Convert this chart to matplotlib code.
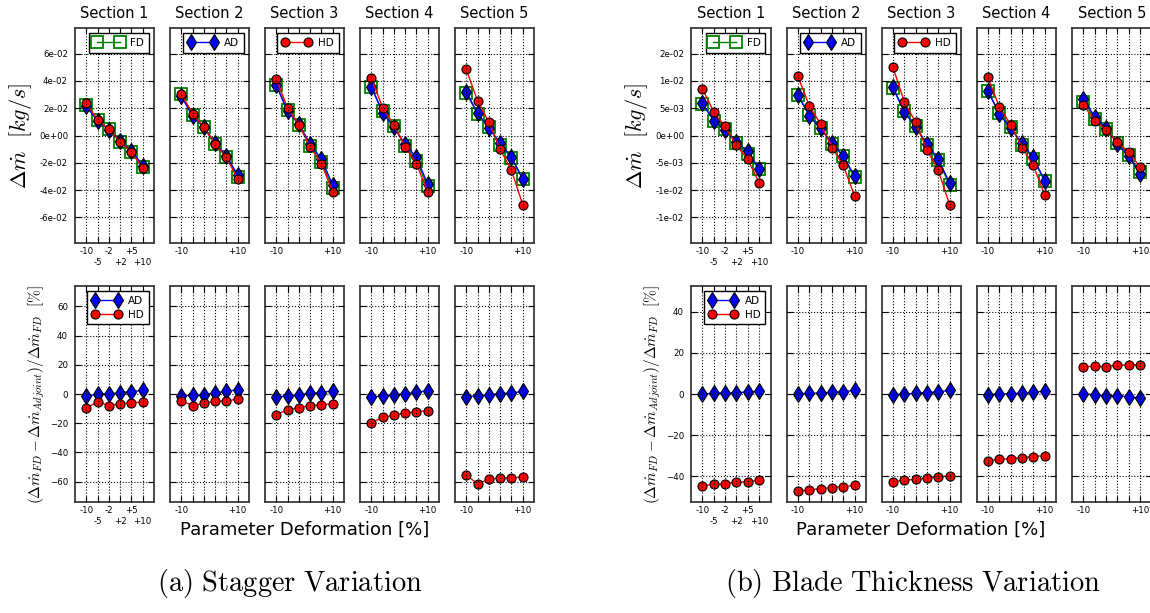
import matplotlib
matplotlib.use("Agg")
import matplotlib.pyplot as plt

plt.rcParams['font.family'] = ['DejaVu Sans']
plt.rcParams['mathtext.fontset'] = 'cm'

# ---------------------------------------------------------------- data
sections = ['Section 1', 'Section 2', 'Section 3', 'Section 4', 'Section 5']
deform_labels = ['-10', '-5', '-2', '+2', '+5', '+10']

# (a) stagger variation: mass-flow change [kg/s]
stagger_fd = [
    [0.0222, 0.0112, 0.0046, -0.0044, -0.0121, -0.0228],
    [0.0302, 0.0151, 0.0059, -0.0063, -0.0156, -0.0307],
    [0.0370, 0.0188, 0.0078, -0.0080, -0.0193, -0.0388],
    [0.0354, 0.0176, 0.0073, -0.0078, -0.0185, -0.0373],
    [0.0310, 0.0159, 0.0063, -0.0066, -0.0163, -0.0317],
]
stagger_ad = [
    [0.0215, 0.0108, 0.0041, -0.0041, -0.0112, -0.0220],
    [0.0288, 0.0141, 0.0061, -0.0057, -0.0148, -0.0290],
    [0.0368, 0.0176, 0.0085, -0.0063, -0.0173, -0.0363],
    [0.0359, 0.0168, 0.0059, -0.0063, -0.0161, -0.0356],
    [0.0320, 0.0163, 0.0056, -0.0056, -0.0159, -0.0320],
]
stagger_hd = [
    [0.0236, 0.0115, 0.0045, -0.0048, -0.0120, -0.0240],
    [0.0305, 0.0159, 0.0061, -0.0063, -0.0161, -0.0320],
    [0.0417, 0.0200, 0.0080, -0.0083, -0.0207, -0.0412],
    [0.0424, 0.0205, 0.0080, -0.0083, -0.0207, -0.0415],
    [0.0485, 0.0254, 0.0098, -0.0102, -0.0254, -0.0507],
]
# (a) relative error of adjoint predictions [%]
stagger_err_ad = [
    [-1.6, 0.0, 0.0, 0.9, 1.6, 2.5],
    [-1.1, -0.9, -0.5, 0.7, 1.8, 3.0],
    [-2.3, -1.1, -0.5, 0.5, 0.9, 2.3],
    [-2.3, -1.1, -0.5, 0.2, 1.1, 2.3],
    [-1.8, -1.1, -0.5, 0.2, 0.7, 1.8],
]
stagger_err_hd = [
    [-9.8, -5.2, -8.0, -6.6, -6.1, -5.5],
    [-4.6, -8.0, -6.4, -5.0, -4.6, -3.6],
    [-14.1, -10.9, -9.3, -8.0, -7.3, -6.6],
    [-20.0, -15.9, -14.6, -13.0, -12.3, -11.4],
    [-55.6, -61.5, -58.5, -57.4, -57.6, -56.7],
]

# (b) blade thickness variation: mass-flow change [kg/s]
thick_fd = [
    [0.00585, 0.00274, 0.00116, -0.00140, -0.00341, -0.00622],
    [0.00750, 0.00378, 0.00146, -0.00152, -0.00384, -0.00768],
    [0.00878, 0.00451, 0.00177, -0.00183, -0.00457, -0.00909],
    [0.00817, 0.00409, 0.00159, -0.00171, -0.00427, -0.00841],
    [0.00622, 0.00311, 0.00122, -0.00134, -0.00354, -0.00671],
]
thick_ad = [
    [0.00590, 0.00274, 0.00104, -0.00116, -0.00293, -0.00610],
    [0.00738, 0.00366, 0.00134, -0.00140, -0.00372, -0.00750],
    [0.00884, 0.00433, 0.00159, -0.00159, -0.00433, -0.00872],
    [0.00817, 0.00396, 0.00134, -0.00140, -0.00402, -0.00829],
    [0.00665, 0.00348, 0.00140, -0.00159, -0.00384, -0.00707],
]
thick_hd = [
    [0.00860, 0.00433, 0.00165, -0.00183, -0.00439, -0.00866],
    [0.01091, 0.00543, 0.00213, -0.00220, -0.00549, -0.01110],
    [0.01256, 0.00622, 0.00244, -0.00262, -0.00640, -0.01268],
    [0.01067, 0.00530, 0.00201, -0.00220, -0.00549, -0.01085],
    [0.00561, 0.00274, 0.00104, -0.00128, -0.00299, -0.00585],
]
# (b) relative error of adjoint predictions [%]
thick_err_ad = [
    [0.0, 0.3, 0.5, 0.7, 1.0, 1.3],
    [0.0, 0.3, 0.5, 0.8, 1.1, 1.8],
    [-0.3, 0.0, 0.3, 0.7, 1.0, 1.8],
    [-0.3, 0.0, 0.2, 0.3, 0.8, 1.5],
    [0.0, -0.3, -0.8, -0.8, -1.3, -2.0],
]
thick_err_hd = [
    [-44.6, -43.9, -43.6, -42.9, -42.6, -41.9],
    [-47.3, -46.5, -46.0, -45.5, -45.0, -44.4],
    [-42.6, -41.9, -41.5, -40.8, -40.3, -39.7],
    [-32.4, -31.7, -31.4, -30.9, -30.4, -29.9],
    [13.3, 13.5, 13.3, 14.0, 14.1, 14.3],
]

stagger_dm_ticks = [0.06, 0.04, 0.02, 0.0, -0.02, -0.04, -0.06]
stagger_dm_ticklabels = ['6e-02', '4e-02', '2e-02', '0e+00', '-2e-02', '-4e-02', '-6e-02']
thick_dm_ticks = [0.015, 0.010, 0.005, 0.0, -0.005, -0.010, -0.015]
thick_dm_ticklabels = ['2e-02', '1e-02', '5e-03', '0e+00', '-5e-03', '-1e-02', '-1e-02']
stagger_err_ticks = [60, 40, 20, 0, -20, -40, -60]
stagger_err_ticklabels = ['60', '40', '20', '0', '\u221220', '\u221240', '\u221260']
thick_err_ticks = [40, 20, 0, -20, -40]
thick_err_ticklabels = ['40', '20', '0', '\u221220', '\u221240']

# ---------------------------------------------------------------- styles
W, H = 1150, 613
fig = plt.figure(figsize=(W / 100, H / 100), dpi=100)

FD_STYLE = dict(color='green', lw=1.0, marker='s', ms=8.5, mfc='none',
                mec='green', mew=1.3, label='FD', zorder=2)
AD_STYLE = dict(color='blue', lw=1.0, marker='d', ms=8.5, mfc='blue',
                mec='black', mew=0.8, label='AD', zorder=2.1)
HD_STYLE = dict(color='red', lw=1.0, marker='o', ms=6.5, mfc='red',
                mec='black', mew=0.8, label='HD', zorder=2.2)

SPINE_COLOR = '#3a3a3a'
TICK_FS = 6.2
xpos = list(range(len(deform_labels)))

LEG_KW = dict(loc='upper right', numpoints=2, fontsize=7.5, handlelength=2.8,
              fancybox=False, framealpha=1.0, edgecolor='black',
              borderpad=0.45, handletextpad=0.7, labelspacing=0.35)

ROW_TOP = (28, 215)      # top edge, height in pixels
ROW_BOT = (286, 216)


def px_axes(left, top, width, height):
    return fig.add_axes([left / W, 1 - (top + height) / H, width / W, height / H])


def style_axes(ax, first_col):
    ax.set_axisbelow(False)
    for s in ax.spines.values():
        s.set_color(SPINE_COLOR)
        s.set_linewidth(1.3)
    ax.set_xlim(-1, 6)
    if first_col:
        # staggered two-row labelling of the deformation levels
        ax.set_xticks(xpos[0::2])
        ax.set_xticklabels(deform_labels[0::2])
        ax.set_xticks(xpos[1::2], minor=True)
        ax.set_xticklabels(deform_labels[1::2], minor=True)
        ax.tick_params(axis='x', which='minor', pad=10.8)
    else:
        ax.set_xticks(xpos)
        ax.set_xticklabels([lab if i in (0, len(deform_labels) - 1) else ''
                            for i, lab in enumerate(deform_labels)])
    ax.grid(True, which='both', color='black', linestyle=':', linewidth=0.8)
    ax.tick_params(which='both', direction='in', length=4, width=0.8,
                   color='black', top=True, right=True, labelsize=TICK_FS)
    ax.tick_params(axis='x', which='major', pad=3)
    ax.tick_params(axis='y', pad=5)


def draw_panel(lefts, width, fd, ad, hd, err_ad, err_hd, dm_ylim, dm_ticks,
               dm_ticklabels, err_ylim, err_ticks, err_ticklabels,
               ylab_x_top, ylab_x_bot):
    for k, sec in enumerate(sections):
        first = (k == 0)
        ax = px_axes(lefts[k], ROW_TOP[0], width, ROW_TOP[1])
        l_fd, = ax.plot(xpos, fd[k], **FD_STYLE)
        l_ad, = ax.plot(xpos, ad[k], **AD_STYLE)
        l_hd, = ax.plot(xpos, hd[k], **HD_STYLE)
        style_axes(ax, first)
        ax.set_ylim(*dm_ylim)
        ax.set_yticks(dm_ticks)
        ax.set_yticklabels(dm_ticklabels if first else [''] * len(dm_ticks))
        ax.set_title(sec, fontsize=10.5, pad=7)
        if k < 3:
            ax.legend(handles=[[l_fd, l_ad, l_hd][k]], **LEG_KW)
        if first:
            ax.set_ylabel(r'$\Delta\dot{m}\ \ [kg/s]$', fontsize=16)
            ax.yaxis.set_label_coords(ylab_x_top / W, 1 - 135.5 / H,
                                      transform=fig.transFigure)

        bx = px_axes(lefts[k], ROW_BOT[0], width, ROW_BOT[1])
        b_ad, = bx.plot(xpos, err_ad[k], **AD_STYLE)
        b_hd, = bx.plot(xpos, err_hd[k], **HD_STYLE)
        style_axes(bx, first)
        bx.set_ylim(*err_ylim)
        bx.set_yticks(err_ticks)
        bx.set_yticklabels(err_ticklabels if first else [''] * len(err_ticks))
        if first:
            bx.legend(handles=[b_ad, b_hd], **LEG_KW)
            bx.set_ylabel(r'$(\Delta\dot{m}_{FD}-\Delta\dot{m}_{Adjoint})/\Delta\dot{m}_{FD}\ \ [\%]$',
                          fontsize=11)
            bx.yaxis.set_label_coords(ylab_x_bot / W, 1 - 394 / H,
                                      transform=fig.transFigure)


draw_panel([75, 170, 265, 360, 455], 79,
           stagger_fd, stagger_ad, stagger_hd, stagger_err_ad, stagger_err_hd,
           (-0.0788, 0.0788), stagger_dm_ticks, stagger_dm_ticklabels,
           (-74, 74), stagger_err_ticks, stagger_err_ticklabels, 34, 47)
draw_panel([691, 786.5, 881.5, 976.5, 1072], 79.5,
           thick_fd, thick_ad, thick_hd, thick_err_ad, thick_err_hd,
           (-0.0197, 0.0197), thick_dm_ticks, thick_dm_ticklabels,
           (-52.5, 52.5), thick_err_ticks, thick_err_ticklabels, 650, 663)

fig.text(304.5 / W, 1 - 530 / H, 'Parameter Deformation [%]', fontsize=13,
         ha='center', va='center')
fig.text(921 / W, 1 - 530 / H, 'Parameter Deformation [%]', fontsize=13,
         ha='center', va='center')
fig.text(290 / W, 1 - 583 / H, r'$\mathrm{(a)\ Stagger\ Variation}$', fontsize=20.5,
         ha='center', va='center')
fig.text(913 / W, 1 - 583 / H, r'$\mathrm{(b)\ Blade\ Thickness\ Variation}$',
         fontsize=20.5, ha='center', va='center')

fig.savefig('out.png', dpi=100)
